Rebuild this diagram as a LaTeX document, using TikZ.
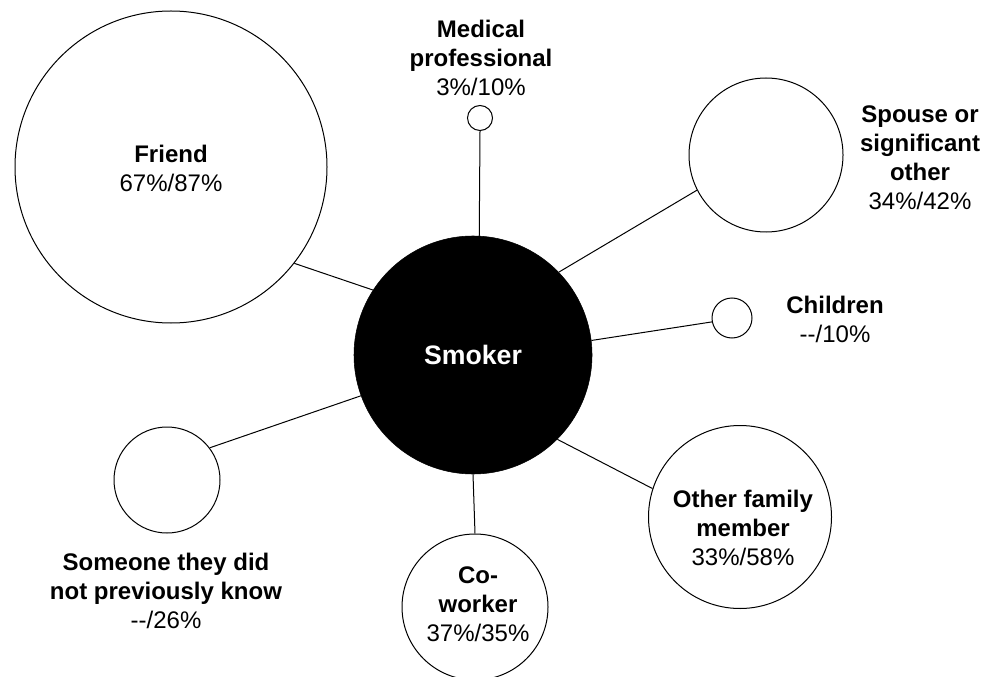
\documentclass[tikz,border=0pt]{standalone}
\usepackage{fontspec}
\setmainfont{Liberation Sans}
\begin{document}
\begin{tikzpicture}[x=0.75pt,y=-0.75pt,
    every node/.style={font=\fontsize{18}{21.75}\selectfont, align=center, inner sep=0pt},
    ring/.style={circle, draw=black, fill=white, line width=0.75pt, minimum size=#1},
    hub/.style={circle, draw=black, fill=black, minimum size=#1},
    link/.style={line width=0.75pt}]

\useasboundingbox (0,0) rectangle (984,677);

% centre
\node[hub=178.5pt] (smoker) at (473,355) {};
\node[text=white, font=\fontsize{20}{24}\selectfont\bfseries] (smokertext) at (473,355) {Smoker};

% contacts
\node[ring=234pt]    (friend)   at (171,167) {};
\node[ring=18.75pt]  (medical)  at (480,118) {};
\node[ring=115.5pt]  (spouse)   at (766,155) {};
\node[ring=30pt]     (children) at (732,318) {};
\node[ring=137.25pt] (family)   at (740,517) {};
\node[ring=109.5pt]  (coworker) at (475,607) {};
\node[ring=79.5pt]   (stranger) at (167,480) {};

% ties
\draw[link] (smoker.147) -- (friend.-38);
\draw[link] (smoker.87)  -- (medical.south);
\draw[link] (smoker.44)  -- (spouse.207);
\draw[link] (smoker.7)   -- (children.191);
\draw[link] (smoker.-45) -- (family.162);
\draw[link] (smoker.south) -- (coworker.north);
\draw[link] (smoker.200) -- (stranger.37);

% labels
\node (friendtext)   at (171,168) {\textbf{Friend}\\67\%/87\%};
\node (medicaltext)  at (481,58)  {\textbf{Medical}\\\textbf{professional}\\3\%/10\%};
\node (spousetext)   at (920,158) {\textbf{Spouse or}\\\textbf{significant}\\\textbf{other}\\34\%/42\%};
\node (childrentext) at (835,319) {\textbf{Children}\\-{}-/10\%};
\node (familytext)   at (743,528) {\textbf{Other family}\\\textbf{member}\\33\%/58\%};
\node (coworkertext) at (478,604) {\textbf{Co-}\\\textbf{worker}\\37\%/35\%};
\node (strangertext) at (166,591) {\textbf{Someone they did}\\\textbf{not previously know}\\-{}-/26\%};

\end{tikzpicture}
\end{document}
